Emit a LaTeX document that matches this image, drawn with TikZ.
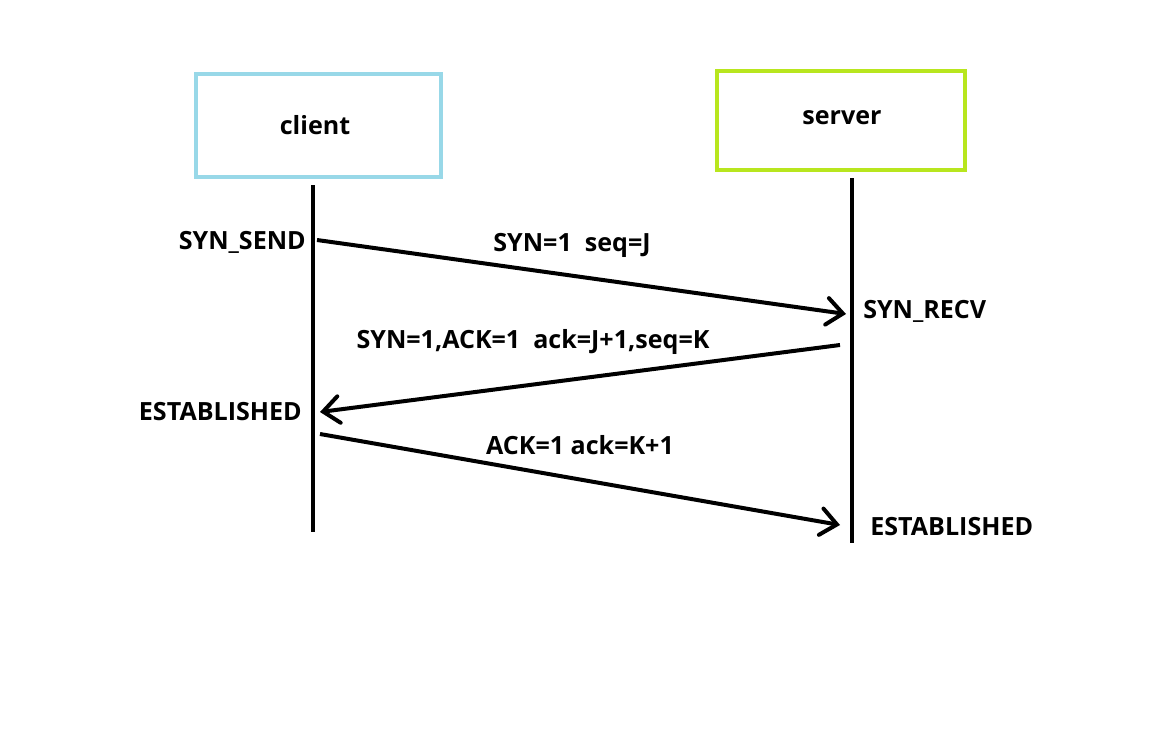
\documentclass[tikz,border=0pt]{standalone}
\usepackage{fontspec}
\setmainfont{Open Sans}
\usetikzlibrary{arrows.meta}
\definecolor{clientblue}{RGB}{152,216,232}
\definecolor{servergreen}{RGB}{184,230,30}
\tikzset{
  lbl/.style={font=\fontsize{18.8}{22}\selectfont\bfseries, inner sep=0pt},
  boxc/.style={draw=clientblue, line width=3pt, minimum width=184pt, minimum height=77pt, inner sep=0pt},
  boxs/.style={draw=servergreen, line width=3pt, minimum width=186pt, minimum height=74.6pt, inner sep=0pt},
  life/.style={line width=3pt},
  msg/.style={line width=3pt, -{Straight Barb[length=12pt,width=20pt,line cap=round,line width=3pt]}, shorten >=0pt},
}
\begin{document}
\begin{tikzpicture}[x=0.75pt,y=-0.75pt]
\useasboundingbox (0,0) rectangle (1152,728);
\node[boxc] (client) at (318.25,125.25) {};
\node[lbl] at (315,125) {client};
\node[boxs] (server) at (840.5,120.25) {};
\node[lbl] at (842,118) {server};
\coordinate (ct) at (313,185);
\coordinate (cb) at (313,532);
\coordinate (st) at (852,178);
\coordinate (sb) at (852,543);
\draw[life] (ct) -- (cb);
\draw[life] (st) -- (sb);
\coordinate (m1s) at (317,240);
\coordinate (m1e) at (846,314);
\coordinate (m2s) at (840,345);
\coordinate (m2e) at (320,412);
\coordinate (m3s) at (320,434);
\coordinate (m3e) at (840,525);
\draw[msg] (m1s) -- (m1e);
\draw[msg] (m2s) -- (m2e);
\draw[msg] (m3s) -- (m3e);
\node[lbl, anchor=east] at (306,242) {SYN\_SEND};
\node[lbl] at (572,245) {SYN=1\ \ seq=J};
\node[lbl, anchor=west] at (863,311) {SYN\_RECV};
\node[lbl] at (533,342) {SYN=1,ACK=1\ \ ack=J+1,seq=K};
\node[lbl, anchor=east] at (302,412) {ESTABLISHED};
\node[lbl] at (580,445) {ACK=1 ack=K+1};
\node[lbl, anchor=west] at (870,527) {ESTABLISHED};
\end{tikzpicture}
\end{document}
